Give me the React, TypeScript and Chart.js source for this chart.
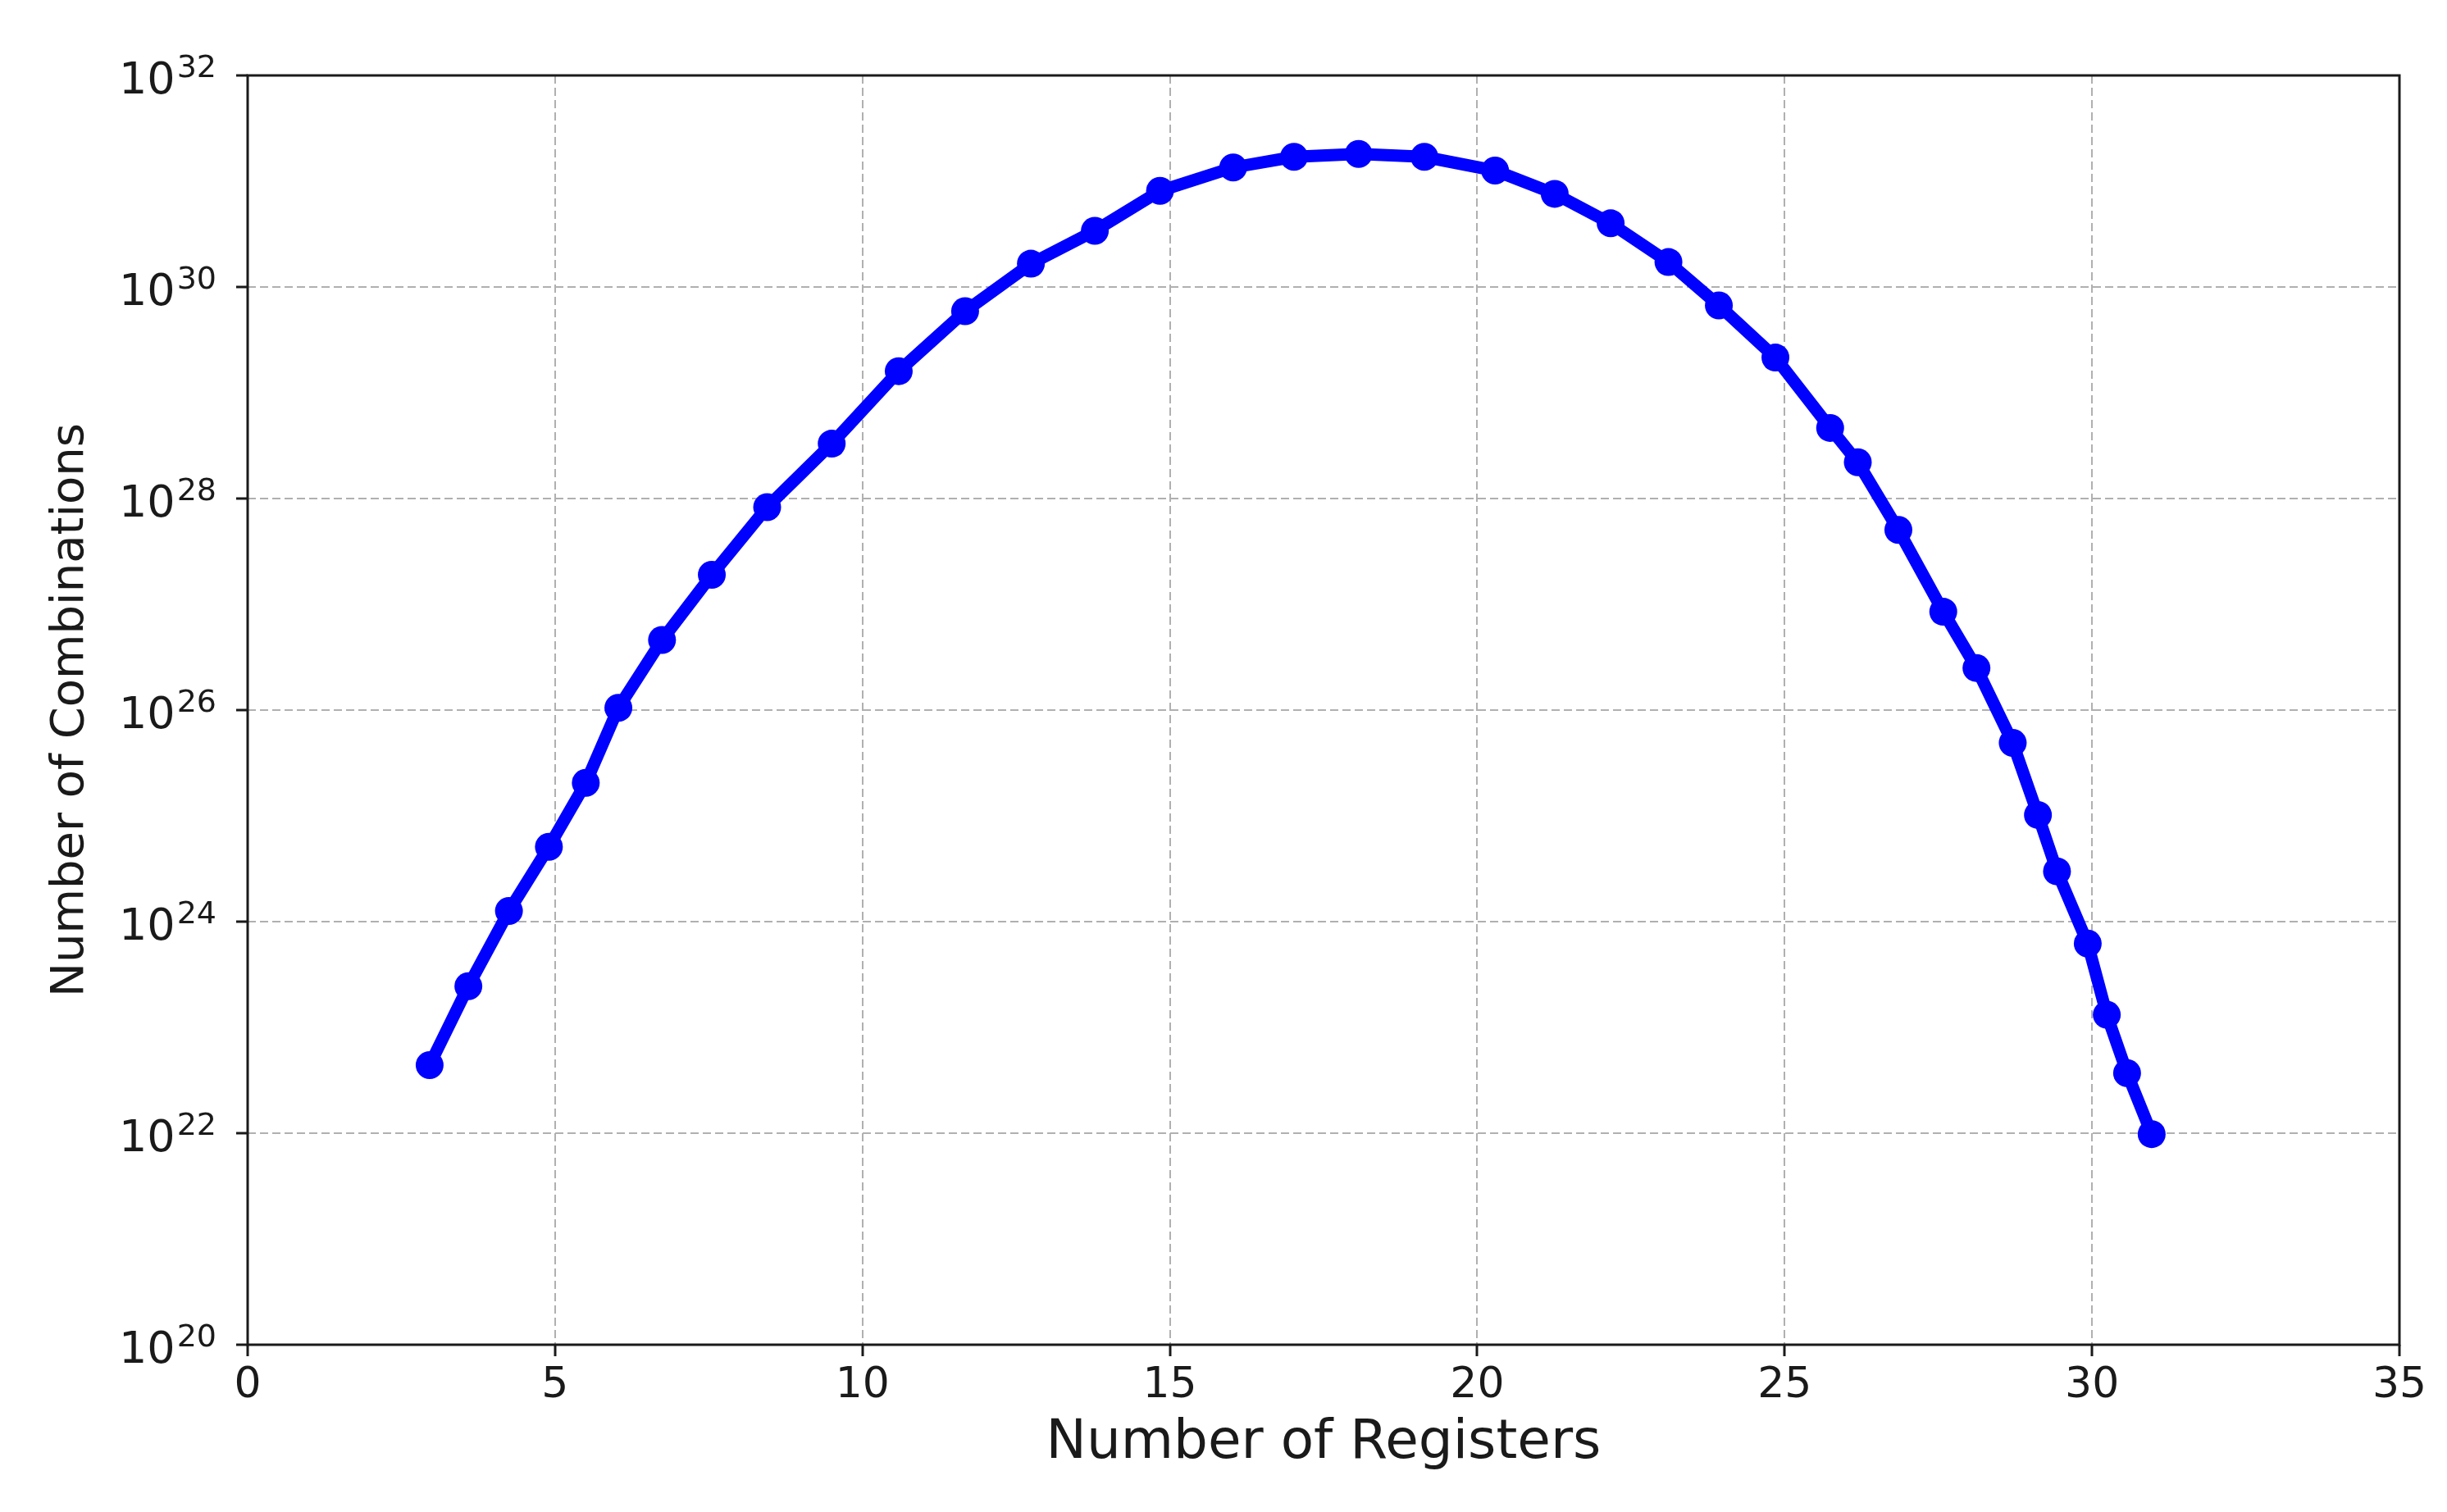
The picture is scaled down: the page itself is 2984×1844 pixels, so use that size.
import React, { useEffect, useRef } from "react";
import { Chart, registerables } from "chart.js";

Chart.register(...registerables);

// ---- data ----
const registers = [
  2.96, 3.59, 4.25, 4.9, 5.5, 6.03, 6.74, 7.55, 8.45, 9.5, 10.59, 11.67, 12.74,
  13.78, 14.84, 16.03, 17.02, 18.07, 19.14, 20.29, 21.26, 22.17, 23.11, 23.93,
  24.85, 25.74, 26.19, 26.85, 27.58, 28.12, 28.71, 29.12, 29.43, 29.93, 30.24,
  30.57, 30.97,
];
const combinations = [
  4.4e22, 2.45e23, 1.26e24, 5.1e24, 2.05e25, 1.05e26, 4.6e26, 1.9e27, 8.3e27,
  3.3e28, 1.6e29, 5.9e29, 1.66e30, 3.4e30, 8.1e30, 1.35e31, 1.7e31, 1.81e31,
  1.7e31, 1.26e31, 7.6e30, 4.0e30, 1.72e30, 6.7e29, 2.15e29, 4.65e28, 2.2e28,
  5.05e27, 8.5e26, 2.5e26, 4.9e25, 1.02e25, 2.99e24, 6.2e23, 1.32e23, 3.7e22,
  9.8e21,
];
const xTickValues = [0, 5, 10, 15, 20, 25, 30, 35];
const yTickValues = [1e20, 1e22, 1e24, 1e26, 1e28, 1e30, 1e32];
const yTickExponents = ["20", "22", "24", "26", "28", "30", "32"];
const xTitle = "Number of Registers";
const yTitle = "Number of Combinations";

const W = 2984;
const H = 1844;
const FONT = '"DejaVu Sans", "Liberation Sans", sans-serif';

const framePlugin = {
  id: "frameAndLabels",
  afterDatasetsDraw(chart: any) {
    const { ctx, chartArea } = chart;
    ctx.save();
    ctx.strokeStyle = "#1a1a1a";
    ctx.lineWidth = 3;
    ctx.setLineDash([]);
    ctx.strokeRect(
      chartArea.left,
      chartArea.top,
      chartArea.right - chartArea.left,
      chartArea.bottom - chartArea.top
    );
    ctx.restore();
  },
  afterDraw(chart: any) {
    const { ctx } = chart;
    const yScale = chart.scales.y;
    ctx.save();
    ctx.fillStyle = "#1a1a1a";
    ctx.textBaseline = "alphabetic";
    ctx.textAlign = "left";
    const xRight = 264;
    yTickValues.forEach((v, i) => {
      const y = yScale.getPixelForValue(v);
      ctx.font = `54px ${FONT}`;
      const wBase = ctx.measureText("10").width;
      ctx.font = `38px ${FONT}`;
      const wSup = ctx.measureText(yTickExponents[i]).width;
      const x0 = xRight - wSup - wBase - 2;
      ctx.font = `54px ${FONT}`;
      ctx.fillText("10", x0, y + 22);
      ctx.font = `38px ${FONT}`;
      ctx.fillText(yTickExponents[i], x0 + wBase + 2, y + 2);
    });
    ctx.restore();
  },
};

export default function App() {
  const canvasRef = useRef<HTMLCanvasElement | null>(null);

  useEffect(() => {
    if (!canvasRef.current) return;
    const gridCommon = {
      color: "#b0b0b0",
      lineWidth: 2,
      tickColor: "#1a1a1a",
      tickWidth: 3,
      tickLength: 14,
      tickBorderDash: [],
    };
    const chart = new Chart(canvasRef.current, {
      type: "line",
      data: {
        datasets: [
          {
            data: registers.map((x, i) => ({ x, y: combinations[i] })),
            borderColor: "#0000ff",
            backgroundColor: "#0000ff",
            borderWidth: 15,
            pointRadius: 17,
            pointBorderWidth: 0,
            pointBackgroundColor: "#0000ff",
            pointStyle: "circle",
            tension: 0,
            fill: false,
          },
        ],
      },
      options: {
        animation: false,
        responsive: false,
        maintainAspectRatio: false,
        devicePixelRatio: 1,
        layout: { padding: { top: 92, right: 58, left: 0, bottom: 0 } },
        plugins: { legend: { display: false }, tooltip: { enabled: false } },
        scales: {
          x: {
            type: "linear",
            min: 0,
            max: 35,
            afterBuildTicks: (s: any) => {
              s.ticks = xTickValues.map((v) => ({ value: v }));
            },
            afterFit: (s: any) => {
              s.height = 204;
            },
            ticks: {
              font: { family: FONT, size: 52 },
              color: "#1a1a1a",
              padding: 5,
              maxRotation: 0,
              autoSkip: false,
            },
            grid: gridCommon,
            border: { display: false, dash: [10, 5] },
            title: {
              display: true,
              text: xTitle,
              color: "#1a1a1a",
              font: { family: FONT, size: 66 },
              padding: { top: 0, bottom: 44 },
            },
          },
          y: {
            type: "logarithmic",
            min: 1e20,
            max: 1e32,
            afterBuildTicks: (s: any) => {
              s.ticks = yTickValues.map((v) => ({ value: v }));
            },
            afterFit: (s: any) => {
              s.width = 302;
            },
            ticks: { display: false },
            grid: gridCommon,
            border: { display: false, dash: [10, 5] },
            title: {
              display: true,
              text: yTitle,
              color: "#1a1a1a",
              font: { family: FONT, size: 56 },
              padding: { top: 53, bottom: 0 },
            },
          },
        },
      } as any,
      plugins: [framePlugin],
    });
    return () => chart.destroy();
  }, []);

  return (
    <div
      style={{
        position: "fixed",
        left: 0,
        top: 0,
        width: W,
        height: H,
        background: "#ffffff",
      }}
    >
      <canvas ref={canvasRef} width={W} height={H} style={{ width: W, height: H }} />
    </div>
  );
}
